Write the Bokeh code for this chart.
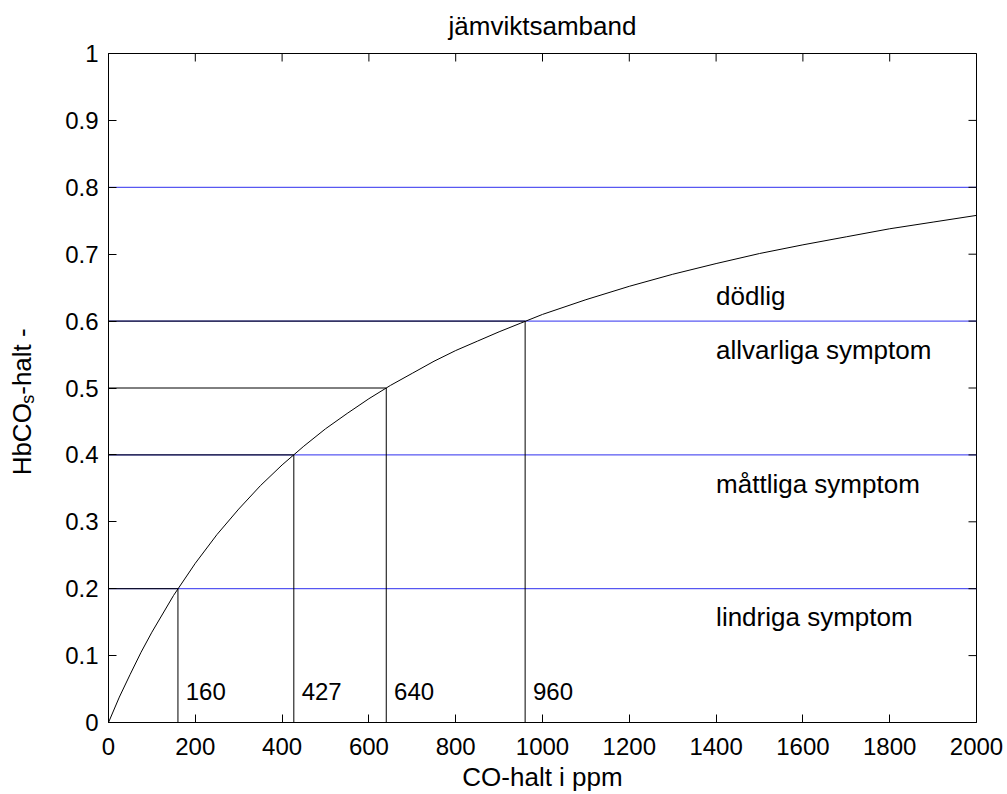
from math import pi
from bokeh.plotting import figure
from bokeh.layouts import row
from bokeh.models import FixedTicker, Range1d, ColumnDataSource
from bokeh.core.properties import value
from bokeh.embed import file_html
from bokeh.resources import INLINE

FONT = "Liberation Sans"

# equilibrium curve
co_ppm = [0, 25, 50, 75, 100, 150, 200, 250, 300, 350, 400, 450, 500, 550, 600,
          650, 700, 750, 800, 850, 900, 950, 1000, 1100, 1200, 1300, 1400, 1500,
          1600, 1700, 1800, 1900, 2000]
hbco = [0.000, 0.038, 0.072, 0.105, 0.135, 0.190, 0.238, 0.281, 0.319, 0.354,
        0.385, 0.413, 0.439, 0.462, 0.484, 0.504, 0.522, 0.540, 0.556, 0.570,
        0.584, 0.597, 0.610, 0.632, 0.652, 0.670, 0.686, 0.701, 0.714, 0.726,
        0.738, 0.748, 0.758]

levels = [0.2, 0.4, 0.6, 0.8]
marker_ppm = [160, 427, 640, 960]
marker_hbco = [0.2, 0.4, 0.5, 0.6]
marker_labels = ["160", "427", "640", "960"]

zone_labels = ["dödlig", "allvarliga symptom", "måttliga symptom", "lindriga symptom"]
zone_x = [1400, 1400, 1400, 1400]
zone_y = [0.637, 0.557, 0.357, 0.157]

x_ticks = [0, 200, 400, 600, 800, 1000, 1200, 1400, 1600, 1800, 2000]
y_ticks = [0, 0.1, 0.2, 0.3, 0.4, 0.5, 0.6, 0.7, 0.8, 0.9, 1.0]
y_tick_labels = ["0", "0.1", "0.2", "0.3", "0.4", "0.5", "0.6", "0.7", "0.8", "0.9", "1"]

ylabel_parts = ["HbCO", "s", "-halt -"]

TOP, BOTTOM = 53, 67
H = 794

# ---- main figure ----
p = figure(width=967, height=H, x_range=Range1d(0, 2000), y_range=Range1d(0, 1),
           output_backend="svg", toolbar_location=None,
           min_border_left=68, min_border_right=31, min_border_top=TOP, min_border_bottom=BOTTOM,
           title="jämviktsamband")

p.grid.visible = False
p.outline_line_color = "black"
p.outline_line_alpha = 1.0
p.outline_line_width = 1
p.background_fill_color = "white"
p.border_fill_color = "white"

p.title.align = "center"
p.title.vertical_align = "top"
p.title.text_line_height = 1.6
p.title.text_font = FONT
p.title.text_font_size = "26px"
p.title.text_font_style = "normal"
p.title.text_color = "black"
p.title.standoff = 21

def style_axis(ax):
    ax.major_tick_in = 8
    ax.major_tick_out = 0
    ax.minor_tick_in = 0
    ax.minor_tick_out = 0
    ax.axis_line_color = "black"
    ax.major_tick_line_color = "black"
    ax.major_label_text_font = FONT
    ax.major_label_text_color = "black"
    ax.major_label_text_font_size = "24px"

xa = p.xaxis[0]
xa.ticker = FixedTicker(ticks=x_ticks)
style_axis(xa)
xa.major_label_standoff = 15
xa.axis_label = "CO-halt i ppm"
xa.axis_label_text_font = FONT
xa.axis_label_text_font_size = "26px"
xa.axis_label_text_font_style = "normal"
xa.axis_label_text_color = "black"
xa.axis_label_standoff = 4

ya = p.yaxis[0]
ya.ticker = FixedTicker(ticks=y_ticks)
ya.major_label_overrides = {t: l for t, l in zip(y_ticks, y_tick_labels)}
style_axis(ya)
ya.major_label_standoff = 10

# blue horizontal level lines
lev = ColumnDataSource(dict(x0=[co_ppm[0]] * len(levels), x1=[co_ppm[-1]] * len(levels), y=levels))
p.segment(x0="x0", y0="y", x1="x1", y1="y", source=lev, line_color="#2f2fee", line_width=1)

# black marker lines
mk = ColumnDataSource(dict(x=marker_ppm, y=marker_hbco, zero=[0] * len(marker_ppm),
                           lab=marker_labels,
                           tx=[v + 18 for v in marker_ppm], ty=[0.046] * len(marker_ppm)))
p.segment(x0="zero", y0="y", x1="x", y1="y", source=mk, line_color="black", line_width=1)
p.segment(x0="x", y0="zero", x1="x", y1="y", source=mk, line_color="black", line_width=1)

# curve
p.line(co_ppm, hbco, line_color="black", line_width=1)

# texts
p.text(x="tx", y="ty", text="lab", source=mk, text_font=value(FONT),
       text_font_size="24px", text_color="black", text_align="left", text_baseline="alphabetic")
zs = ColumnDataSource(dict(x=zone_x, y=zone_y, t=zone_labels))
p.text(x="x", y="y", text="t", source=zs, text_font=value(FONT),
       text_font_size="26px", text_color="black", text_align="left", text_baseline="alphabetic")

# inward ticks on the top and right edges of the box (outer half of each dash is clipped)
p.scatter(x=x_ticks, y=[y_ticks[-1]] * len(x_ticks), marker="dash", size=16, angle=pi / 2,
          line_color="black", line_width=1)
p.scatter(x=[x_ticks[-1]] * len(y_ticks), y=y_ticks, marker="dash", size=16,
          line_color="black", line_width=1)

# ---- narrow figure holding the rotated y-axis label with subscript ----
lab = figure(width=40, height=H, x_range=Range1d(0, 40), y_range=Range1d(0, 1),
             output_backend="svg", toolbar_location=None,
             x_axis_type=None, y_axis_type=None,
             min_border_left=0, min_border_right=0, min_border_top=TOP, min_border_bottom=BOTTOM)
lab.grid.visible = False
lab.outline_line_color = None
lab.background_fill_color = "white"
lab.border_fill_color = "white"

y_start = 0.3694
lab.text(x=[21], y=[y_start], text=[ylabel_parts[0]], angle=pi / 2, text_font=value(FONT),
         text_font_size="26px", text_color="black", text_align="left", text_baseline="alphabetic")
lab.text(x=[27], y=[y_start + 0.1071], text=[ylabel_parts[1]], angle=pi / 2, text_font=value(FONT),
         text_font_size="18px", text_color="black", text_align="left", text_baseline="alphabetic")
lab.text(x=[21], y=[y_start + 0.1071 + 0.0134], text=[ylabel_parts[2]], angle=pi / 2,
         text_font=value(FONT), text_font_size="26px", text_color="black",
         text_align="left", text_baseline="alphabetic")

layout = row(lab, p)
open("out.html", "w").write(file_html(layout, INLINE))
